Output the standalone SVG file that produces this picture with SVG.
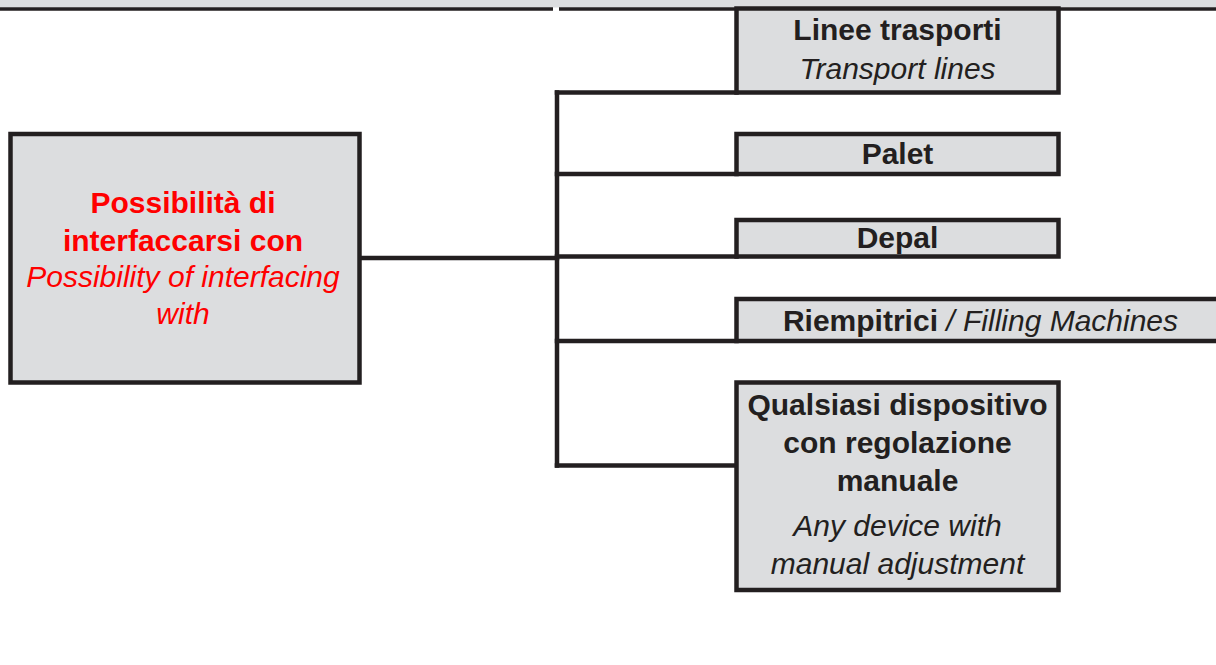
<svg xmlns="http://www.w3.org/2000/svg" width="1216" height="665" viewBox="0 0 1216 665">
<style>
.box{fill:#dcdddf;stroke:#231f20;stroke-width:4.5}
.ln{stroke:#231f20;stroke-width:4.5;fill:none;stroke-linecap:square}
text{font-family:"Liberation Sans",Arial,sans-serif;font-size:30px;text-anchor:middle;fill:#231f20}
.b{font-weight:bold}
.i{font-style:italic}
.red{fill:#ff0000}
</style>
<rect x="0" y="0" width="1216" height="7.5" fill="#dcdddf"/>
<g id="topline">
<line x1="0" y1="9" x2="553" y2="9" stroke="#231f20" stroke-width="3.5"/>
<line x1="559" y1="9" x2="1216" y2="9" stroke="#231f20" stroke-width="3.5"/>
</g>
<g id="connectors">
<line class="ln" x1="359.5" y1="258" x2="557" y2="258"/>
<line class="ln" x1="557" y1="92.5" x2="557" y2="465.5"/>
<line class="ln" x1="557" y1="92.5" x2="736.5" y2="92.5"/>
<line class="ln" x1="557" y1="174" x2="736.5" y2="174"/>
<line class="ln" x1="557" y1="256.5" x2="736.5" y2="256.5"/>
<line class="ln" x1="557" y1="341" x2="736.5" y2="341"/>
<line class="ln" x1="557" y1="465.5" x2="736.5" y2="465.5"/>
</g>
<g id="source">
<rect class="box" x="10.5" y="134" width="349" height="248.5"/>
<text class="b red" x="183" y="213">Possibilità di</text>
<text class="b red" x="183" y="251">interfaccarsi con</text>
<text class="i red" x="183" y="287">Possibility of interfacing</text>
<text class="i red" x="183" y="324">with</text>
</g>
<g id="linee">
<rect class="box" x="736.5" y="8.5" width="322" height="84"/>
<text class="b" x="897.5" y="40">Linee trasporti</text>
<text class="i" x="897.5" y="79">Transport lines</text>
</g>
<g id="palet">
<rect class="box" x="736.5" y="134" width="322" height="40"/>
<text class="b" x="897.5" y="164">Palet</text>
</g>
<g id="depal">
<rect class="box" x="736.5" y="220" width="322" height="36.5"/>
<text class="b" x="897.5" y="248">Depal</text>
</g>
<g id="riempitrici">
<rect class="box" x="736.5" y="299" width="500" height="42"/>
<text x="980.5" y="331"><tspan class="b">Riempitrici</tspan><tspan class="i"> / Filling Machines</tspan></text>
</g>
<g id="qualsiasi">
<rect class="box" x="736.5" y="382.5" width="322" height="207.5"/>
<text class="b" x="897.5" y="415">Qualsiasi dispositivo</text>
<text class="b" x="897.5" y="453">con regolazione</text>
<text class="b" x="897.5" y="491">manuale</text>
<text class="i" x="897.5" y="536">Any device with</text>
<text class="i" x="897.5" y="574">manual adjustment</text>
</g>
</svg>
